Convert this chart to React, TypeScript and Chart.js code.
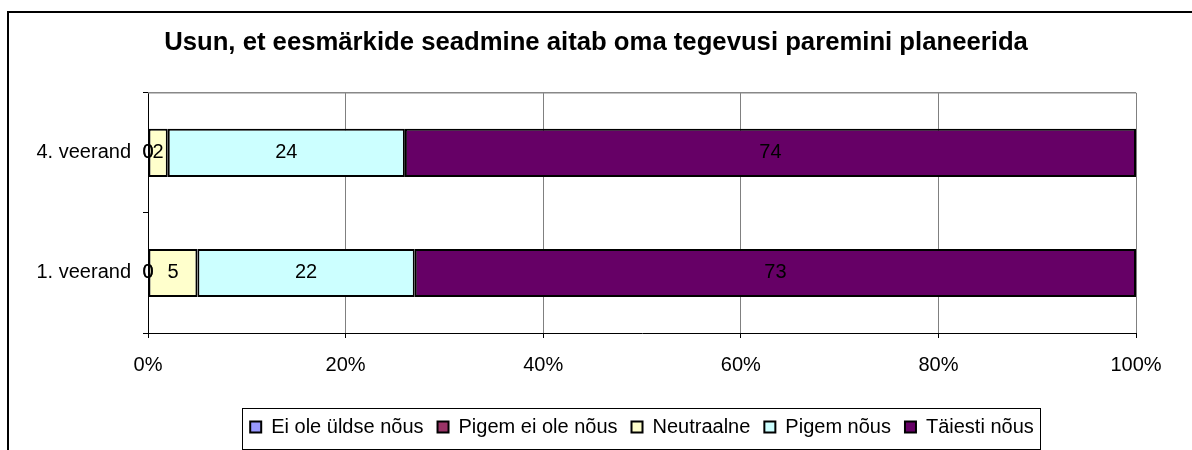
import { useEffect, useRef } from 'react';
import { Chart, registerables } from 'chart.js';

Chart.register(...registerables);

const TITLE = 'Usun, et eesmärkide seadmine aitab oma tegevusi paremini planeerida';
const categories = ['4. veerand', '1. veerand'];
const seriesNames = ['Ei ole üldse nõus', 'Pigem ei ole nõus', 'Neutraalne', 'Pigem nõus', 'Täiesti nõus'];
const eiOleUldseNous = [0, 0];
const pigemEiOleNous = [0, 0];
const neutraalne = [2, 5];
const pigemNous = [24, 22];
const taiestiNous = [74, 73];
const seriesColors = ['#9999FF', '#993366', '#FFFFCC', '#CCFFFF', '#660066'];
const xTicks = [0, 20, 40, 60, 80, 100];

const FONT = '"Liberation Sans", Arial, Helvetica, sans-serif';

const decorPlugin = {
  id: 'decor',
  afterLayout(chart: any) {
    const tb = chart.titleBlock;
    if (tb) {
      tb.left = 0;
      tb.right = chart.width;
      tb.width = chart.width;
    }
    const lg = chart.legend;
    const area = chart.chartArea;
    if (lg && area) {
      lg.left = area.left;
      lg.right = area.right;
      lg.width = area.right - area.left;
    }
  },
  beforeDraw(chart: any) {
    const ctx = chart.ctx;
    ctx.save();
    ctx.fillStyle = '#fff';
    ctx.fillRect(0, 0, chart.width, chart.height);
    ctx.strokeStyle = '#000';
    ctx.lineWidth = 2;
    ctx.strokeRect(8, 12, chart.width + 20, chart.height + 20);
    ctx.restore();
  },
  afterDatasetsDraw(chart: any) {
    const ctx = chart.ctx;
    const area = chart.chartArea;
    ctx.save();
    ctx.strokeStyle = '#888';
    ctx.lineWidth = 1.5;
    ctx.beginPath();
    ctx.moveTo(area.left, area.top);
    ctx.lineTo(area.right, area.top);
    ctx.stroke();
    ctx.fillStyle = '#000';
    ctx.font = `20px ${FONT}`;
    ctx.textAlign = 'center';
    ctx.textBaseline = 'middle';
    chart.data.datasets.forEach((ds: any, di: number) => {
      const meta = chart.getDatasetMeta(di);
      meta.data.forEach((el: any, i: number) => {
        const v = ds.data[i];
        const cx = (el.x + el.base) / 2;
        ctx.fillText(String(v), cx, el.y);
      });
    });
    ctx.restore();
  },
  afterDraw(chart: any) {
    const lg = chart.legend;
    if (!lg || !lg.legendHitBoxes || !lg.legendHitBoxes.length) return;
    const hbs = lg.legendHitBoxes;
    let l = Infinity, r = -Infinity;
    hbs.forEach((h: any) => {
      l = Math.min(l, h.left);
      r = Math.max(r, h.left + h.width);
    });
    const cy = hbs[0].top + hbs[0].height / 2;
    const ctx = chart.ctx;
    ctx.save();
    ctx.strokeStyle = '#000';
    ctx.lineWidth = 1;
    ctx.strokeRect(Math.round(l - 8) + 0.5, Math.round(cy - 19) + 0.5, Math.round(r - l + 14), 41);
    ctx.restore();
  },
};

export default function App() {
  const ref = useRef<HTMLCanvasElement>(null);
  useEffect(() => {
    const values = [eiOleUldseNous, pigemEiOleNous, neutraalne, pigemNous, taiestiNous];
    const chart = new Chart(ref.current as HTMLCanvasElement, {
      type: 'bar',
      data: {
        labels: categories,
        datasets: seriesNames.map((name, i) => ({
          label: name,
          data: values[i],
          backgroundColor: seriesColors[i],
          borderColor: '#000',
          borderWidth: 2,
          borderSkipped: false,
          barPercentage: 0.4,
          categoryPercentage: 1,
        })),
      },
      plugins: [decorPlugin],
      options: {
        indexAxis: 'y',
        animation: false,
        responsive: false,
        devicePixelRatio: 1,
        events: [],
        layout: { padding: { left: 0, right: 56, top: 0, bottom: 3 } },
        plugins: {
          title: {
            display: true,
            text: TITLE,
            color: '#000',
            font: { family: FONT, size: 25.7, weight: 'bold', lineHeight: 1.2 },
            padding: { top: 27, bottom: 35 },
          },
          legend: {
            position: 'bottom',
            labels: {
              color: '#000',
              font: { family: FONT, size: 20 },
              boxWidth: 11,
              boxHeight: 11,
              padding: 14,
            },
          },
          tooltip: { enabled: false },
        },
        scales: {
          x: {
            stacked: true,
            min: 0,
            max: 100,
            afterFit: (s: any) => {
              s.height = 70;
            },
            afterBuildTicks: (s: any) => {
              s.ticks = xTicks.map((v) => ({ value: v }));
            },
            ticks: {
              callback: (v: any) => v + '%',
              color: '#000',
              font: { family: FONT, size: 20 },
              padding: 15,
              maxRotation: 0,
              autoSkip: false,
            },
            grid: { color: '#808080', tickColor: '#000', tickLength: 5, lineWidth: 1 },
            border: { color: '#000', width: 1 },
          },
          y: {
            stacked: true,
            afterFit: (s: any) => {
              s.width = 148;
            },
            ticks: {
              color: '#000',
              font: { family: FONT, size: 20 },
              padding: 12,
            },
            grid: { drawOnChartArea: false, tickLength: 5, tickColor: '#000', offset: true },
            border: { color: '#000', width: 1 },
          },
        },
      } as any,
    });
    return () => chart.destroy();
  }, []);
  return (
    <div style={{ position: 'fixed', left: 0, top: 0, width: 1192, height: 450, background: '#fff' }}>
      <canvas ref={ref} width={1192} height={450} style={{ display: 'block' }} />
    </div>
  );
}
